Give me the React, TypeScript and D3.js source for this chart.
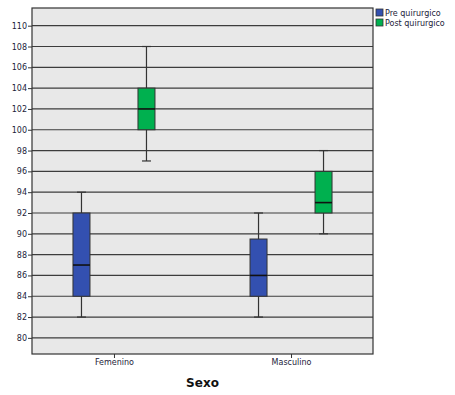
import React, { useEffect, useRef } from "react";
import * as d3 from "d3";

const categories = ["Femenino", "Masculino"];
const groups = ["Pre quirurgico", "Post quirurgico"];
const groupColors = ["#3350b0", "#00b04f"];

// [min, q1, median, q3, max] per category, per group
const preStats = [
  [82, 84, 87, 92, 94],
  [82, 84, 86, 89.5, 92],
];
const postStats = [
  [97, 100, 102, 104, 108],
  [90, 92, 93, 96, 98],
];
const yTicks = [80, 82, 84, 86, 88, 90, 92, 94, 96, 98, 100, 102, 104, 106, 108, 110];

export default function App() {
  const svgRef = useRef<SVGSVGElement>(null);

  useEffect(() => {
    const svg = d3.select(svgRef.current);
    svg.selectAll("*").remove();

    const width = 455;
    const height = 395;
    const margin = { top: 8, right: 82, bottom: 41, left: 32 };
    const innerW = width - margin.left - margin.right;
    const innerH = height - margin.top - margin.bottom;
    const font = "'DejaVu Sans', Verdana, sans-serif";

    const x = d3
      .scalePoint()
      .domain(categories)
      .range([0, innerW])
      .padding(0.463);

    const y = d3.scaleLinear().domain([78.45, 111.7]).range([innerH, 0]);

    const g = svg
      .append("g")
      .attr("transform", `translate(${margin.left},${margin.top})`);

    g.append("rect")
      .attr("width", innerW)
      .attr("height", innerH)
      .attr("fill", "#e8e8e8");

    // gridlines
    g.selectAll(".grid")
      .data(yTicks)
      .enter()
      .append("line")
      .attr("x1", 0)
      .attr("x2", innerW)
      .attr("y1", (d) => y(d))
      .attr("y2", (d) => y(d))
      .attr("stroke", "#3c3c3c")
      .attr("stroke-width", 1.2);

    const offset = 32.5;
    const boxW = 17;
    const series = [preStats, postStats];

    series.forEach((stats, gi) => {
      const dx = gi === 0 ? -offset : offset;
      stats.forEach((s, ci) => {
        const cx = (x(categories[ci]) as number) + dx;
        const [mn, q1, med, q3, mx] = s;
        const bg = g.append("g");
        bg.append("line")
          .attr("x1", cx)
          .attr("x2", cx)
          .attr("y1", y(mx))
          .attr("y2", y(mn))
          .attr("stroke", "#333")
          .attr("stroke-width", 1.2);
        [mn, mx].forEach((v) =>
          bg
            .append("line")
            .attr("x1", cx - 4.5)
            .attr("x2", cx + 4.5)
            .attr("y1", y(v))
            .attr("y2", y(v))
            .attr("stroke", "#333")
            .attr("stroke-width", 1.2)
        );
        bg.append("rect")
          .attr("x", cx - boxW / 2)
          .attr("y", y(q3))
          .attr("width", boxW)
          .attr("height", y(q1) - y(q3))
          .attr("fill", groupColors[gi])
          .attr("stroke", "#333")
          .attr("stroke-width", 1);
        bg.append("line")
          .attr("x1", cx - boxW / 2)
          .attr("x2", cx + boxW / 2)
          .attr("y1", y(med))
          .attr("y2", y(med))
          .attr("stroke", "#111")
          .attr("stroke-width", 1.6);
      });
    });

    // frame
    g.append("rect")
      .attr("width", innerW)
      .attr("height", innerH)
      .attr("fill", "none")
      .attr("stroke", "#333")
      .attr("stroke-width", 1.2);

    const yAxis = g
      .append("g")
      .call(d3.axisLeft(y).tickValues(yTicks).tickSize(4).tickPadding(1));
    yAxis.select(".domain").remove();
    yAxis.selectAll("line").attr("stroke", "#333");
    yAxis
      .selectAll("text")
      .style("font-family", font)
      .style("font-size", "8px")
      .attr("fill", "#1c1c3a");

    const xAxis = g
      .append("g")
      .attr("transform", `translate(0,${innerH})`)
      .call(d3.axisBottom(x).tickSize(4).tickPadding(1));
    xAxis.select(".domain").remove();
    xAxis.selectAll("line").attr("stroke", "#333");
    xAxis
      .selectAll("text")
      .style("font-family", font)
      .style("font-size", "8px")
      .attr("fill", "#1c1c3a");

    svg
      .append("text")
      .attr("x", margin.left + innerW / 2)
      .attr("y", 387)
      .attr("text-anchor", "middle")
      .style("font-family", font)
      .style("font-size", "12px")
      .style("font-weight", "bold")
      .attr("fill", "#111")
      .text("Sexo");

    const legend = svg.append("g").attr("transform", `translate(376, 9)`);
    groups.forEach((name, i) => {
      legend
        .append("rect")
        .attr("x", 0)
        .attr("y", i * 10)
        .attr("width", 7)
        .attr("height", 7)
        .attr("fill", groupColors[i])
        .attr("stroke", "#333")
        .attr("stroke-width", 0.8);
      legend
        .append("text")
        .attr("x", 9)
        .attr("y", i * 10 + 6.5)
        .style("font-family", font)
        .style("font-size", "8px")
        .attr("fill", "#1c1c3a")
        .text(name);
    });
  }, []);

  return (
    <div style={{ position: "absolute", left: 0, top: 0 }}>
      <svg ref={svgRef} width={455} height={395} style={{ display: "block", background: "#fff" }}></svg>
    </div>
  );
}
